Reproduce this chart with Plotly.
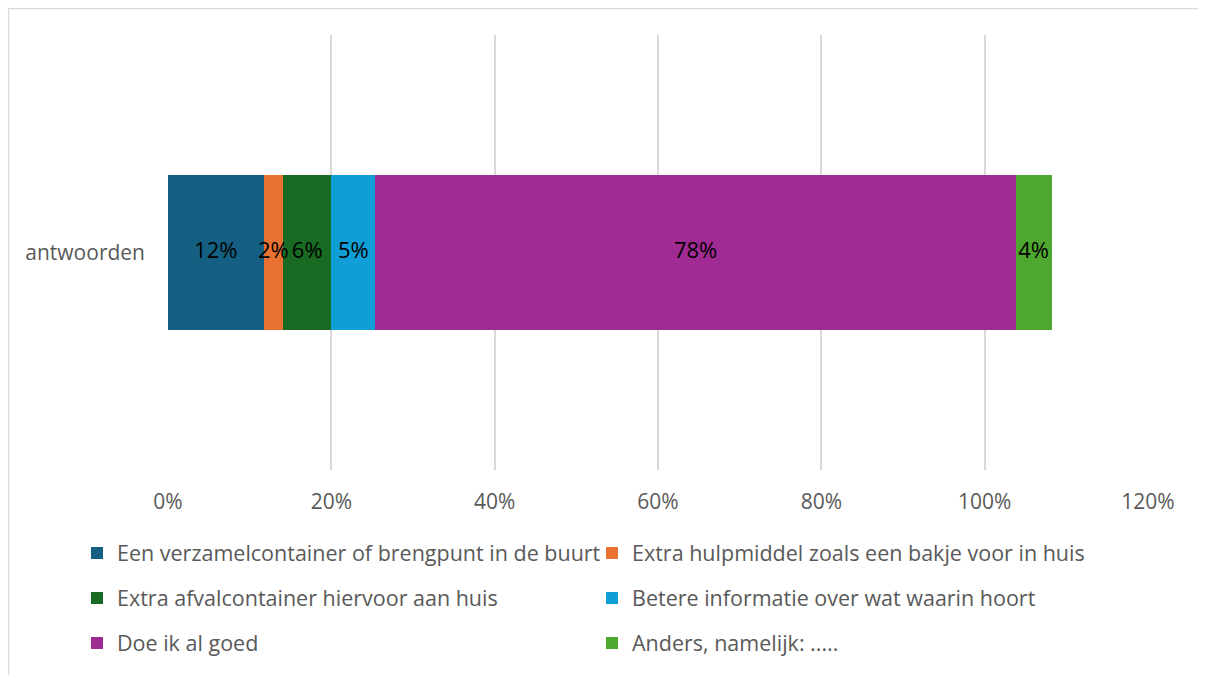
import numpy as np
import plotly.graph_objects as go

categories = ["antwoorden"]
series_names = [
    "Een verzamelcontainer of brengpunt in de buurt",
    "Extra hulpmiddel zoals een bakje voor in huis",
    "Extra afvalcontainer hiervoor aan huis",
    "Betere informatie over wat waarin hoort",
    "Doe ik al goed",
    "Anders, namelijk: .....",
]
series_values = [11.7, 2.4, 5.9, 5.4, 78.4, 4.4]
series_colors = ["#156082", "#E97132", "#196B24", "#0F9ED5", "#A02B93", "#4EA72E"]
tick_values = [0, 20, 40, 60, 80, 100, 120]
tick_labels = ["0%", "20%", "40%", "60%", "80%", "100%", "120%"]

FONT = "Open Sans"
GRAY = "#595959"

# the page places the figure 8px from the top-left corner
OFF = 8
W, H = 1206 - OFF, 675 - OFF
ml, mt = 168 - OFF, 35 - OFF
mr = W - (1148 - OFF)
mb = H - (470 - OFF)
pw, ph = W - ml - mr, H - mt - mb

def px_x(p):
    return (p - OFF - ml) / pw

def px_y(p):
    return (H - mb - (p - OFF)) / ph

fig = go.Figure()
legend_ids = ["legend", "legend", "legend2", "legend2", "legend3", "legend3"]
for name, val, col, lg in zip(series_names, series_values, series_colors, legend_ids):
    fig.add_trace(go.Bar(
        y=categories, x=[val], name=name, orientation="h",
        marker=dict(color=col, line=dict(width=0)),
        legend=lg, hoverinfo="name+x",
    ))

# data labels centred in each segment, drawn on top of all bars
vals = np.array(series_values)
mids = np.cumsum(vals) - vals / 2
fig.add_trace(go.Scatter(
    x=mids, y=categories * len(vals), mode="text",
    text=[f"{v:.0f}%" for v in vals], textposition="middle center",
    textfont=dict(family=FONT, size=22, color="black"),
    showlegend=False, hoverinfo="skip",
))

def leg(row_center):
    return dict(
        orientation="h", entrywidth=470, entrywidthmode="pixels",
        x=px_x(117 - 40), xanchor="left", y=px_y(row_center), yanchor="middle",
        font=dict(family=FONT, size=21.5, color=GRAY), bgcolor="rgba(0,0,0,0)",
        traceorder="normal",
    )

fig.update_layout(
    width=W, height=H,
    margin=dict(l=ml, r=mr, t=mt, b=mb),
    paper_bgcolor="white", plot_bgcolor="white",
    barmode="stack", bargap=0.644,
    showlegend=True,
    legend=leg(553), legend2=leg(598), legend3=leg(643),
    font=dict(family=FONT, color=GRAY),
    xaxis=dict(
        range=[0, 120], tickvals=tick_values, ticktext=tick_labels,
        showgrid=True, gridcolor="#D9D9D9", gridwidth=1.5, zeroline=False,
        showline=False, ticks="", ticklabelstandoff=17,
        tickfont=dict(family=FONT, size=21, color=GRAY), fixedrange=True,
    ),
    yaxis=dict(
        showgrid=False, zeroline=False, showline=False, ticks="",
        ticklabelstandoff=22, tickfont=dict(family=FONT, size=21, color=GRAY),
    ),
    shapes=[dict(
        type="rect", xref="paper", yref="paper",
        x0=px_x(8.5), x1=px_x(1214), y0=px_y(682), y1=px_y(8.5),
        line=dict(color="#D9D9D9", width=1.5), fillcolor="rgba(0,0,0,0)", layer="below",
    )],
)

fig.write_html("out.html")
